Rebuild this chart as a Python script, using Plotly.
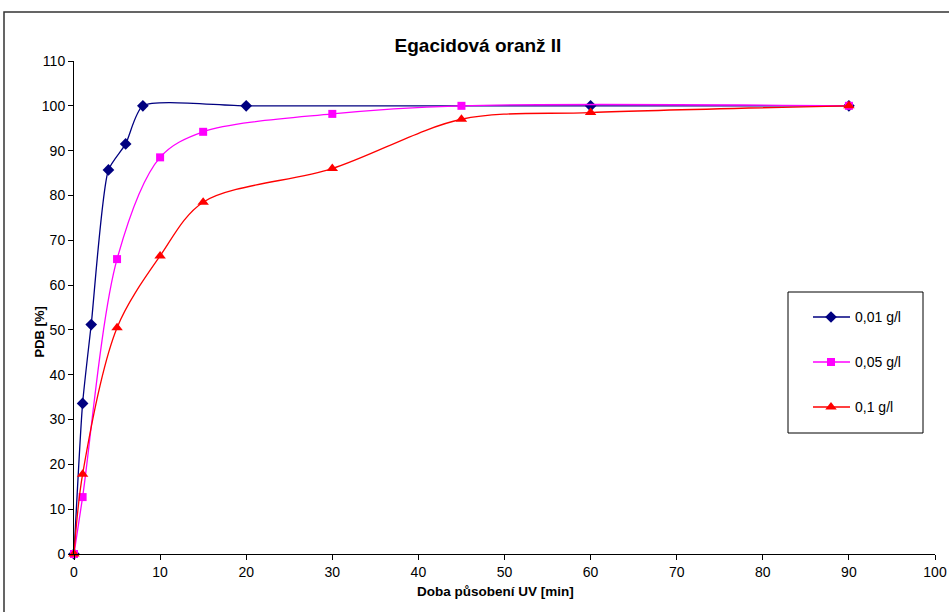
import plotly.graph_objects as go

# Exposure time [min] and degradation PDB [%] for three dye concentrations
t_001 = [0, 1, 2, 4, 6, 8, 20, 60, 90]
pdb_001 = [0, 33.6, 51.2, 85.7, 91.5, 100, 100, 100, 100]

t_005 = [0, 1, 5, 10, 15, 30, 45, 90]
pdb_005 = [0, 12.7, 65.8, 88.5, 94.2, 98.2, 100, 100]

t_01 = [0, 1, 5, 10, 15, 30, 45, 60, 90]
pdb_01 = [0, 17.8, 50.5, 66.5, 78.5, 86.0, 97.0, 98.5, 100]

names = ["0,01 g/l", "0,05 g/l", "0,1 g/l"]
colors = ["#000080", "#FF00FF", "#FF0000"]
symbols = ["diamond", "square", "triangle-up"]
sizes = [9, 8, 10]
smooth = [0.6, 0.9, 0.9]
xs = [t_001, t_005, t_01]
ys = [pdb_001, pdb_005, pdb_01]

FONT = "Liberation Sans, Arial, sans-serif"

# Plot area in pixels
L, R, T, B = 74, 935, 61, 554

fig = go.Figure()
for name, x, y, color, symbol, size, sm in zip(names, xs, ys, colors, symbols, sizes, smooth):
    fig.add_trace(go.Scatter(
        x=x, y=y, name=name, mode="lines+markers", showlegend=False,
        line=dict(color=color, width=1.3, shape="spline", smoothing=sm),
        marker=dict(symbol=symbol, size=size, color=color),
        cliponaxis=False,
    ))

# Legend box drawn on a pixel-scaled overlay axis
leg_x0, leg_x1, leg_y0, leg_y1 = 788, 923, 292, 433
row_y = [317, 362, 407]
for name, color, symbol, size, ry in zip(names, colors, symbols, sizes, row_y):
    fig.add_trace(go.Scatter(
        x=[813, 850], y=[ry, ry], mode="lines", showlegend=False, hoverinfo="skip",
        line=dict(color=color, width=1.3), xaxis="x2", yaxis="y2",
    ))
    fig.add_trace(go.Scatter(
        x=[831], y=[ry], mode="markers", showlegend=False, hoverinfo="skip",
        marker=dict(symbol=symbol, size=size, color=color),
        xaxis="x2", yaxis="y2",
    ))
    fig.add_annotation(text=name, xref="x2", yref="y2", x=853, y=ry, xanchor="left",
                       yanchor="middle", showarrow=False,
                       font=dict(family=FONT, size=14, color="black"))
fig.add_shape(type="rect", xref="x2", yref="y2", x0=leg_x0, x1=leg_x1, y0=leg_y0, y1=leg_y1,
              line=dict(color="black", width=1), fillcolor="white", layer="below")

axis_common = dict(
    showgrid=False, zeroline=False, showline=True, linecolor="black", linewidth=1,
    ticks="outside", ticklen=5, tickcolor="black", mirror=False, automargin=False,
    tickfont=dict(family=FONT, size=14, color="black"),
)

fig.update_layout(
    template="none",
    width=949, height=612, autosize=False,
    paper_bgcolor="white", plot_bgcolor="white",
    margin=dict(l=L, r=949 - R, t=T, b=612 - B, pad=0),
    showlegend=False,
    title=dict(text="<b>Egacidová oranž II</b>", x=478 / 949, xanchor="center",
               y=1 - 45 / 612, yanchor="middle", yref="container",
               font=dict(family=FONT, size=19, color="black")),
    xaxis=dict(range=[0, 100], tick0=0, dtick=10, **axis_common),
    yaxis=dict(range=[0, 110], tick0=0, dtick=10, **axis_common),
    xaxis2=dict(range=[L, R], overlaying="x", anchor="y2", visible=False,
                showgrid=False, zeroline=False, automargin=False),
    yaxis2=dict(range=[B, T], overlaying="y", anchor="x2", visible=False,
                showgrid=False, zeroline=False, automargin=False),
)

# Axis titles
fig.add_annotation(text="<b>Doba působení UV [min]</b>", xref="paper", yref="paper",
                   x=(495 - L) / (R - L), y=(B - 601) / (B - T), showarrow=False,
                   font=dict(family=FONT, size=13.5, color="black"))
fig.add_annotation(text="<b>PDB [%]</b>", xref="paper", yref="paper",
                   x=(30 - L) / (R - L), y=(B - 332) / (B - T), showarrow=False, textangle=-90,
                   font=dict(family=FONT, size=13, color="black"))

# Chart frame
fig.add_shape(type="rect", xref="paper", yref="paper",
              x0=(4 - L) / (R - L), x1=(960 - L) / (R - L),
              y0=(B - 630) / (B - T), y1=(B - 12) / (B - T),
              line=dict(color="#333333", width=1.5), fillcolor="rgba(0,0,0,0)", layer="below")

fig.write_html("out.html")
